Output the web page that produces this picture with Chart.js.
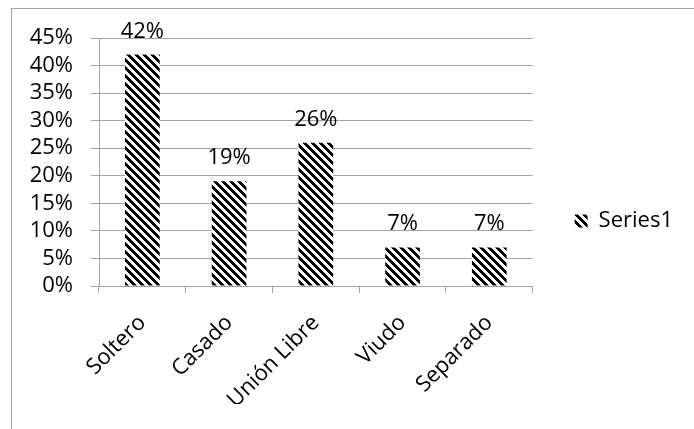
<!DOCTYPE html>
<html>
<head>
<meta charset="utf-8">
<script src="https://cdn.jsdelivr.net/npm/chart.js@4"></script>
<style>
  html, body { margin: 0; padding: 0; background: #fff; }
  #chart { display: block; }
</style>
</head>
<body>
<canvas id="chart" width="694" height="429"></canvas>
<script>
const categories = ['Soltero', 'Casado', 'Unión Libre', 'Viudo', 'Separado'];
const values     = [42, 19, 26, 7, 7];
const seriesName = 'Series1';
const yMax  = 45;
const yStep = 5;

const FONT  = '"Open Sans", "DejaVu Sans", sans-serif';
const SIZE  = 22;
const GRAY  = '#a3a3a3';

const canvas = document.getElementById('chart');
const ctx = canvas.getContext('2d');

// 8x8 wide downward diagonal hatch
function makeHatch() {
  const tile = document.createElement('canvas');
  tile.width = 8;
  tile.height = 8;
  const g = tile.getContext('2d');
  g.fillStyle = '#fff';
  g.fillRect(0, 0, 8, 8);
  g.fillStyle = '#000';
  for (let y = 0; y < 8; y++) {
    for (let x = 0; x < 8; x++) {
      if ((((x - y) % 8) + 8) % 8 < 4) g.fillRect(x, y, 1, 1);
    }
  }
  return ctx.createPattern(tile, 'repeat');
}

const framePlugin = {
  id: 'frame',
  beforeDraw(chart) {
    const c = chart.ctx;
    c.save();
    c.strokeStyle = GRAY;
    c.lineWidth = 1;
    c.strokeRect(11.5, 8.5, 800, 800);
    c.restore();
  },
};

const valueLabels = {
  id: 'valueLabels',
  afterDatasetsDraw(chart) {
    const c = chart.ctx;
    const meta = chart.getDatasetMeta(0);
    c.save();
    c.font = `${SIZE}px ${FONT}`;
    c.fillStyle = '#000';
    c.textAlign = 'center';
    c.textBaseline = 'alphabetic';
    meta.data.forEach((bar, i) => {
      c.fillText(values[i] + '%', bar.x, bar.y - 17);
    });
    c.restore();
  },
};

new Chart(canvas, {
  type: 'bar',
  data: {
    labels: categories,
    datasets: [{
      label: seriesName,
      data: values,
      backgroundColor: makeHatch(),
      borderWidth: 0,
      categoryPercentage: 0.4,
      barPercentage: 1,
    }],
  },
  options: {
    responsive: false,
    animation: false,
    devicePixelRatio: 1,
    layout: { padding: { left: 0, top: 38, right: 11, bottom: 25 } },
    scales: {
      x: {
        grid: {
          offset: true,
          drawOnChartArea: false,
          color: GRAY,
          tickLength: 7,
        },
        border: { color: GRAY },
        ticks: {
          autoSkip: false,
          minRotation: 45,
          maxRotation: 45,
          padding: 17,
          font: { family: FONT, size: SIZE },
          color: '#000',
        },
        afterFit(scale) { scale.height = 429 - 25 - 286; },
      },
      y: {
        min: 0,
        max: yMax,
        grid: { color: GRAY, tickLength: 8 },
        border: { color: GRAY },
        ticks: {
          autoSkip: false,
          stepSize: yStep,
          padding: 18,
          font: { family: FONT, size: SIZE },
          color: '#000',
          callback: v => v + '%',
        },
        afterFit(scale) { scale.width = 99; },
      },
    },
    plugins: {
      legend: {
        position: 'right',
        labels: {
          boxWidth: 13,
          boxHeight: 13,
          padding: 42,
          font: { family: FONT, size: SIZE },
          color: '#000',
        },
      },
      tooltip: { enabled: false },
    },
  },
  plugins: [framePlugin, valueLabels],
});
</script>
</body>
</html>
